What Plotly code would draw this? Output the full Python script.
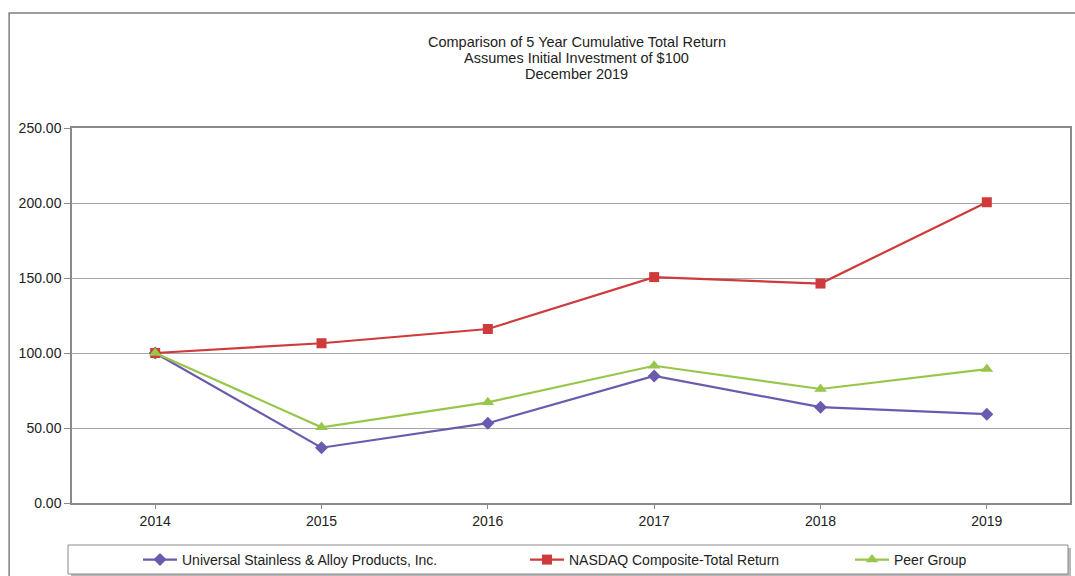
import plotly.graph_objects as go

years = ["2014", "2015", "2016", "2017", "2018", "2019"]
universal = [100.00, 36.85, 53.20, 84.70, 63.90, 59.20]
nasdaq = [100.00, 106.50, 116.00, 150.60, 146.30, 200.50]
peer = [100.00, 50.50, 67.10, 91.50, 76.00, 89.30]
y_ticks = [0, 50, 100, 150, 200, 250]

names = ["Universal Stainless & Alloy Products, Inc.",
         "NASDAQ Composite-Total Return", "Peer Group"]
title_lines = ["Comparison of 5 Year Cumulative Total Return",
               "Assumes Initial Investment of $100",
               "December 2019"]
colors = ["#6b5bae", "#cf3a3a", "#98c64a"]
symbols = ["diamond", "square", "triangle-up"]
sizes = [10, 10, 11]

FONT = "Liberation Sans, Arial, sans-serif"
FS = 14
L, R, T, B = 72, 3, 128, 73
W, H = 1075, 576
pw = W - L - R
ph = H - T - B

def px_x(px):
    return (px - L) / pw

def px_y(py):
    return (H - B - py) / ph

fig = go.Figure()
series = [universal, nasdaq, peer]
legend_ids = ["legend", "legend2", "legend3"]
for i in range(3):
    fig.add_trace(go.Scatter(x=years, y=series[i], name=names[i], mode="lines+markers",
                             legend=legend_ids[i],
                             line=dict(color=colors[i], width=2.2),
                             marker=dict(symbol=symbols[i], size=sizes[i], color=colors[i])))

shapes = [
    # outer frame
    dict(type="rect", xref="paper", yref="paper", x0=px_x(9), x1=px_x(1090),
         y0=px_y(600), y1=px_y(13), line=dict(color="#7f7f7f", width=1.5), layer="below"),
    # legend shadow
    dict(type="rect", xref="paper", yref="paper", x0=px_x(71), x1=px_x(1073),
         y0=px_y(578), y1=px_y(548), line=dict(width=0), fillcolor="#b8b8b8", layer="below"),
    # legend box
    dict(type="rect", xref="paper", yref="paper", x0=px_x(68), x1=px_x(1070),
         y0=px_y(574), y1=px_y(545), line=dict(color="#8a8a8a", width=1), fillcolor="white", layer="below"),
]

annotations = []
for j, t in enumerate(title_lines):
    annotations.append(dict(text=t, xref="paper", yref="paper", x=px_x(578), y=px_y(42 + 16 * j),
                            xanchor="center", yanchor="middle", showarrow=False,
                            font=dict(family=FONT, size=14.5, color="#222222")))

legend_x = [138, 525, 850]
legend_common = dict(orientation="h", xanchor="left", yanchor="top",
                     xref="container", yref="container", y=1 - 544 / H,
                     bgcolor="rgba(0,0,0,0)", borderwidth=0, itemwidth=34,
                     font=dict(family=FONT, size=FS, color="#222222"))

fig.update_layout(
    width=W, height=H,
    margin=dict(l=L, r=R, t=T, b=B),
    paper_bgcolor="white", plot_bgcolor="white",
    font=dict(family=FONT, size=FS, color="#222222"),
    xaxis=dict(type="category", range=[-0.5, 5.5], showgrid=False,
               showline=True, linecolor="#8a8a8a", linewidth=1.5, mirror=True,
               ticks="outside", ticklen=4, tickcolor="#8a8a8a",
               tickfont=dict(family=FONT, size=FS, color="#222222"), zeroline=False),
    yaxis=dict(range=[0, 250], tickvals=y_ticks, tickformat=".2f",
               showgrid=True, gridcolor="#a6a6a6", gridwidth=1.2,
               showline=True, linecolor="#8a8a8a", linewidth=1.5, mirror=True,
               ticks="outside", ticklen=6, tickcolor="#8a8a8a",
               tickfont=dict(family=FONT, size=FS, color="#222222"), zeroline=False),
    legend=dict(x=legend_x[0] / W, **legend_common),
    legend2=dict(x=legend_x[1] / W, **legend_common),
    legend3=dict(x=legend_x[2] / W, **legend_common),
    shapes=shapes,
    annotations=annotations,
    showlegend=True,
)

fig.write_html("out.html", config={"displayModeBar": False},
               post_script="document.body.style.margin='0';")
